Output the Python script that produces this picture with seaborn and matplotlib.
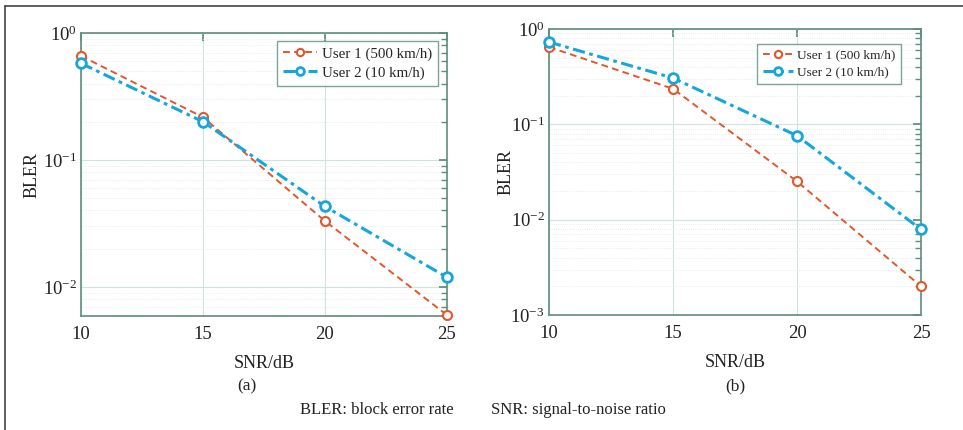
import numpy as np
import pandas as pd
import matplotlib
matplotlib.use("Agg")
import matplotlib.pyplot as plt
import seaborn as sns
from matplotlib.lines import Line2D

snr = [10, 15, 20, 25]
a_user1 = [0.66, 0.217, 0.033, 0.0060]
a_user2 = [0.577, 0.200, 0.043, 0.0119]
b_user1 = [0.647, 0.236, 0.0252, 0.0020]
b_user2 = [0.73, 0.306, 0.076, 0.0079]
labels = ["User 1 (500 km/h)", "User 2 (10 km/h)"]

sns.set_theme(style="white")
plt.rcParams['font.family'] = ['Liberation Serif', 'DejaVu Serif']
plt.rcParams['mathtext.fontset'] = 'stix'

c1 = "#E2572B"
c2 = "#16A6DC"
edge = "#5E8E7C"

fig = plt.figure(figsize=(9.63, 4.30), dpi=100)
W, H = 963, 430
fig.add_artist(Line2D([5/W, 5/W], [0, 1 - 6/H], transform=fig.transFigure,
                      color="#444444", lw=1.2))
fig.add_artist(Line2D([5/W, 1], [1 - 6/H, 1 - 6/H], transform=fig.transFigure,
                      color="#444444", lw=1.2))

def make_ax(rect, u1, u2, ylim, legfs, legbox, ylx):
    l, t, r, b = rect
    ax = fig.add_axes([l/W, 1 - b/H, (r-l)/W, (b-t)/H])
    df = pd.DataFrame({"snr": snr * 2, "bler": u1 + u2,
                       "user": [labels[0]]*4 + [labels[1]]*4})
    sns.lineplot(data=df[df.user == labels[0]], x="snr", y="bler", ax=ax,
                 color=c1, lw=1.4, linestyle=(0, (3.5, 2.2)), marker="o",
                 markersize=6.5, markerfacecolor="white", markeredgecolor=c1,
                 markeredgewidth=1.5, label=labels[0], clip_on=False, zorder=5)
    sns.lineplot(data=df[df.user == labels[1]], x="snr", y="bler", ax=ax,
                 color=c2, lw=2.2, linestyle=(0, (4, 1.5, 1.2, 1.5)), marker="o",
                 markersize=7, markerfacecolor="white", markeredgecolor=c2,
                 markeredgewidth=2.0, label=labels[1], clip_on=False, zorder=5)
    ax.set_yscale("log")
    ax.set_xlim(10, 25)
    ax.set_ylim(*ylim)
    ax.set_xticks(snr)
    ax.grid(True, which="major", color="#cfe3dc", lw=0.8)
    ax.grid(True, which="minor", color="#dde8e4", lw=0.6, linestyle=":")
    for s in ax.spines.values():
        s.set_color(edge)
        s.set_linewidth(1.2)
    ax.tick_params(axis="both", which="both", direction="in", colors=edge,
                   labelcolor="#222222", labelsize=13.5, top=True, right=True)
    ax.tick_params(axis="x", pad=7)
    ax.tick_params(axis="y", pad=3)
    ax.set_xlabel("SNR/dB", fontsize=13, color="#222222", labelpad=9)
    ax.set_ylabel("BLER", fontsize=13, color="#222222")
    ax.yaxis.set_label_coords((ylx - l) / (r - l), 0.5)
    leg = ax.legend(loc="upper right", fontsize=legfs, frameon=True, fancybox=False,
                    handlelength=2.3, handletextpad=0.3, borderpad=0.4,
                    labelspacing=0.35, bbox_to_anchor=legbox, markerscale=0.8,
                    borderaxespad=0)
    leg.get_frame().set_edgecolor(edge)
    leg.get_frame().set_linewidth(1.0)
    leg.set_zorder(10)
    return ax

ax1 = make_ax((81, 33, 447, 316), a_user1, a_user2, (0.0059, 1.0), 10.8,
              ((438-81)/366, 1 - (41-33)/283), 41)
ax2 = make_ax((549, 29, 921, 315), b_user1, b_user2, (1e-3, 1.0), 9.6,
              ((901-549)/372, 1 - (44-29)/286), 515)

fig.text(247/W, 1 - 386/H, "(a)", ha="center", va="center", fontsize=12.5, color="#222222")
fig.text(735/W, 1 - 386/H, "(b)", ha="center", va="center", fontsize=12.5, color="#222222")
fig.text(300/W, 1 - 410/H, "BLER: block error rate", ha="left", va="center",
         fontsize=12, color="#222222")
fig.text(491/W, 1 - 410/H, "SNR: signal-to-noise ratio", ha="left", va="center",
         fontsize=12, color="#222222")

fig.savefig("out.png", dpi=100)
